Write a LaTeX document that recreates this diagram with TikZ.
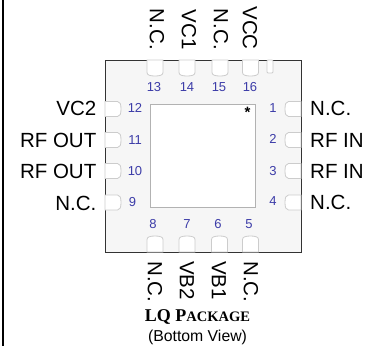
\documentclass[tikz,border=0pt]{standalone}
\usepackage{fontspec}
\setmainfont{Liberation Sans}
\newfontfamily\serifbold[BoldFont=Liberation Serif Bold]{Liberation Serif}
\usetikzlibrary{positioning}

\definecolor{padgray}{HTML}{CCCCCC}
\definecolor{pkgfill}{HTML}{F6F6F6}
\definecolor{pinblue}{HTML}{3C3CA8}

\tikzset{
    padshape/.pic={
        \draw[draw=padgray, fill=white, line width=0.8pt] (0,-#1) -- (12.5,-#1) .. controls (15,-#1) and (16,-5) .. (16,0) .. controls (16,5) and (15,#1) .. (12.5,#1) -- (0,#1) -- cycle;
    },
    pin/.style={text=pinblue, font=\fontsize{13}{13}\selectfont, inner sep=0pt},
    sig/.style={text=black, font=\fontsize{20.5}{20.5}\selectfont, inner sep=0pt},
}

\begin{document}
\begin{tikzpicture}[x=1pt, y=-1pt]
    \useasboundingbox (0,0) rectangle (370,346);

    % Frame and package
    \draw[line width=2pt] (3,0) -- (3,346);
    \node (PKG) [draw=black!80, fill=pkgfill, line width=1pt, minimum width=196pt, minimum height=192pt, inner sep=0pt] at (203,156) {};
    \node (DIE) [draw=black!30, fill=white, line width=1pt, minimum width=105pt, minimum height=103pt, inner sep=0pt] at (202.5,155.5) {};
    \node (STAR) [font=\bfseries\fontsize{15}{15}\selectfont, inner sep=0pt] at (247.5,112) {*};
    \node (NOTCH) [draw=padgray, fill=white, line width=0.8pt, rounded corners=1pt, minimum width=6pt, minimum height=13pt, inner sep=0pt] at (270,66.5) {};

    % Pads
    \pic (L12) at (105,109) {padshape=7.5};
    \pic (L11) at (105,140) {padshape=7.5};
    \pic (L10) at (105,171) {padshape=7.5};
    \pic (L9) at (105,202.5) {padshape=7.5};
    \pic (R1) [rotate=180] at (301,109) {padshape=7.5};
    \pic (R2) [rotate=180] at (301,140) {padshape=7.5};
    \pic (R3) [rotate=180] at (301,171) {padshape=7.5};
    \pic (R4) [rotate=180] at (301,202.5) {padshape=7.5};
    \pic (T13) [rotate=-90] at (155,60) {padshape=8};
    \pic (T14) [rotate=-90] at (187,60) {padshape=8};
    \pic (T15) [rotate=-90] at (220,60) {padshape=8};
    \pic (T16) [rotate=-90] at (250.5,60) {padshape=8};
    \pic (B8) [rotate=90] at (155,252) {padshape=8};
    \pic (B7) [rotate=90] at (187,252) {padshape=8};
    \pic (B6) [rotate=90] at (219.5,252) {padshape=8};
    \pic (B5) [rotate=90] at (250.5,252) {padshape=8};

    % Pin numbers
    \node (N12) [pin] at (135,108) {12};
    \node (N11) [pin] at (135,140) {11};
    \node (N10) [pin] at (135,171) {10};
    \node (N9) [pin] at (132.5,202) {9};
    \node (N1) [pin] at (273,108) {1};
    \node (N2) [pin] at (273,139) {2};
    \node (N3) [pin] at (273,171) {3};
    \node (N4) [pin] at (273,201) {4};
    \node (N13) [pin] at (154,87) {13};
    \node (N14) [pin] at (187,87) {14};
    \node (N15) [pin] at (219,87) {15};
    \node (N16) [pin] at (250,87) {16};
    \node (N8) [pin] at (153,224) {8};
    \node (N7) [pin] at (187,224) {7};
    \node (N6) [pin] at (218,224) {6};
    \node (N5) [pin] at (249,224) {5};

    % Signal names
    \node (VC2) [sig, anchor=east] at (96.5,108) {VC2};
    \node (OUTA) [sig, anchor=east] at (96.5,140) {RF OUT};
    \node (OUTB) [sig, anchor=east] at (96.5,171) {RF OUT};
    \node (NCL) [sig, anchor=east] at (96.5,203) {N.C.};
    \node (NCA) [sig, anchor=west] at (310,108) {N.C.};
    \node (INA) [sig, anchor=west] at (310,140) {RF IN};
    \node (INB) [sig, anchor=west] at (310,171) {RF IN};
    \node (NCB) [sig, anchor=west] at (310,202) {N.C.};
    \node (NCT) [sig, rotate=-90, anchor=east] at (157,50) {N.C.};
    \node (VC1) [sig, rotate=-90, anchor=east] at (189,50) {VC1};
    \node (NCU) [sig, rotate=-90, anchor=east] at (221,50) {N.C.};
    \node (VCC) [sig, rotate=-90, anchor=east] at (250,50) {VCC};
    \node (NCD) [sig, rotate=-90, anchor=west] at (155,261) {N.C.};
    \node (VB2) [sig, rotate=-90, anchor=west] at (187,261) {VB2};
    \node (VB1) [sig, rotate=-90, anchor=west] at (219,261) {VB1};
    \node (NCE) [sig, rotate=-90, anchor=west] at (251,261) {N.C.};

    % Caption
    \node (TITLE) [inner sep=0pt] at (197.5,317) {\serifbold\bfseries\fontsize{18}{18}\selectfont LQ P\fontsize{14.5}{14.5}\selectfont ACKAGE};
    \node (VIEW) [inner sep=0pt, font=\fontsize{15.8}{15.8}\selectfont, below of=TITLE, node distance=20pt] {(Bottom View)};
\end{tikzpicture}
\end{document}
